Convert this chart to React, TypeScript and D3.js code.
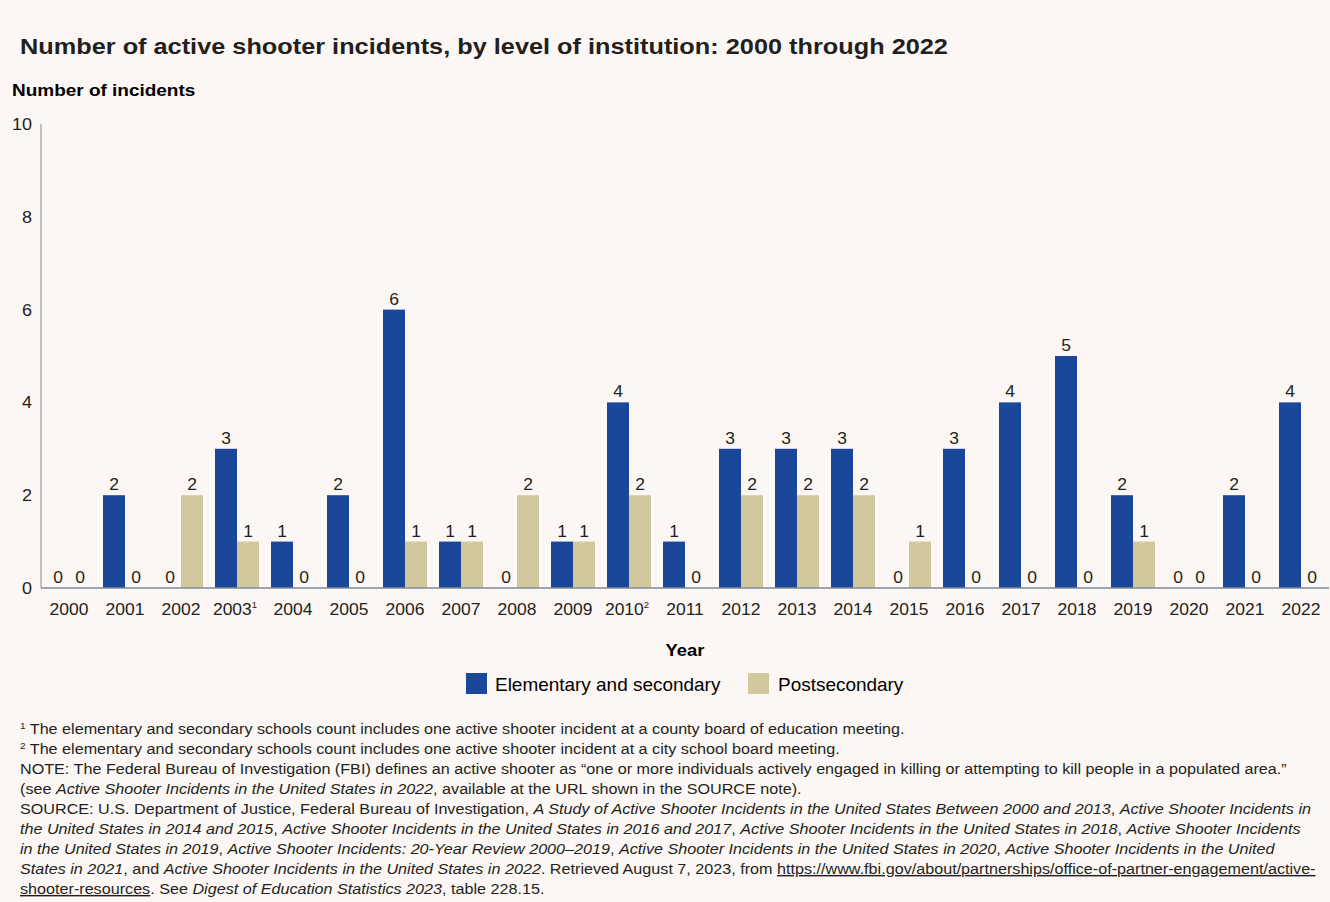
import React, { useEffect } from "react";
import * as d3 from "d3";

const years = ["2000","2001","2002","2003","2004","2005","2006","2007","2008","2009","2010","2011","2012","2013","2014","2015","2016","2017","2018","2019","2020","2021","2022"];
const yearSup: Record<string, string> = { "2003": "1", "2010": "2" };
const elementary = [0,2,0,3,1,2,6,1,0,1,4,1,3,3,3,0,3,4,5,2,0,2,4];
const postsecondary = [0,0,2,1,0,0,1,1,2,1,2,0,2,2,2,1,0,0,0,1,0,0,0];
const seriesNames = ["Elementary and secondary", "Postsecondary"];
const seriesColors = ["#1a4799", "#d1c89e"];
const yTicks = [0,2,4,6,8,10];

const title = "Number of active shooter incidents, by level of institution: 2000 through 2022";
const yTitle = "Number of incidents";
const xTitle = "Year";

type Seg = { t: string; i?: boolean; u?: boolean; sup?: boolean };
const notes: Seg[][] = [
  [{ t: "1", sup: true }, { t: " The elementary and secondary schools count includes one active shooter incident at a county board of education meeting." }],
  [{ t: "2", sup: true }, { t: " The elementary and secondary schools count includes one active shooter incident at a city school board meeting." }],
  [{ t: "NOTE: The Federal Bureau of Investigation (FBI) defines an active shooter as \u201cone or more individuals actively engaged in killing or attempting to kill people in a populated area.\u201d" }],
  [{ t: "(see " }, { t: "Active Shooter Incidents in the United States in 2022", i: true }, { t: ", available at the URL shown in the SOURCE note)." }],
  [{ t: "SOURCE: U.S. Department of Justice, Federal Bureau of Investigation, " }, { t: "A Study of Active Shooter Incidents in the United States Between 2000 and 2013", i: true }, { t: ", " }, { t: "Active Shooter Incidents in", i: true }],
  [{ t: "the United States in 2014 and 2015", i: true }, { t: ", " }, { t: "Active Shooter Incidents in the United States in 2016 and 2017", i: true }, { t: ", " }, { t: "Active Shooter Incidents in the United States in 2018", i: true }, { t: ", " }, { t: "Active Shooter Incidents", i: true }],
  [{ t: "in the United States in 2019", i: true }, { t: ", " }, { t: "Active Shooter Incidents: 20-Year Review 2000\u20132019", i: true }, { t: ", " }, { t: "Active Shooter Incidents in the United States in 2020", i: true }, { t: ", " }, { t: "Active Shooter Incidents in the United", i: true }],
  [{ t: "States in 2021", i: true }, { t: ", and " }, { t: "Active Shooter Incidents in the United States in 2022", i: true }, { t: ". Retrieved August 7, 2023, from " }, { t: "https://www.fbi.gov/about/partnerships/office-of-partner-engagement/active-", u: true }],
  [{ t: "shooter-resources", u: true }, { t: ". See " }, { t: "Digest of Education Statistics 2023", i: true }, { t: ", table 228.15." }],
];

const W = 1330, H = 902;
const FONT = "'Liberation Sans', Arial, Helvetica, sans-serif";
const TEXT = "#231f20";

function ST({ x, y, sx, children, ...rest }: any) {
  return (
    <text transform={`translate(${x},${y}) scale(${sx},1)`} {...rest}>{children}</text>
  );
}

export default function App() {
  useEffect(() => {
    document.body.style.margin = "0";
    document.body.style.background = "#fcf7f4";
  }, []);

  const left = 41, right = 1329, top = 124, bottom = 588;
  const x0 = d3.scaleBand<string>().domain(years).range([left, right]).padding(0);
  const x1 = d3.scaleBand<number>().domain([0, 1]).range([6, x0.bandwidth() - 6]).padding(0);
  const y = d3.scaleLinear().domain([0, 10]).range([bottom, top]);
  const series = [elementary, postsecondary];

  return (
    <svg width={W} height={H} style={{ display: "block", background: "#fcf7f4" }} fontFamily={FONT}>
      <rect width={W} height={H} fill="#fcf7f4" />
      <ST x={20} y={54} sx={1.125} fontSize={22.5} fontWeight="bold" fill={TEXT}>{title}</ST>
      <ST x={12} y={96} sx={1.116} fontSize={17} fontWeight="bold" fill="#000">{yTitle}</ST>

      {yTicks.map((t) => (
        <ST key={t} x={32} y={y(t) + 6} sx={1.06} fontSize={17} textAnchor="end" fill={TEXT}>{t}</ST>
      ))}

      {years.map((yr, gi) => (
        <g key={yr}>
          {series.map((s, si) => {
            const v = s[gi];
            const bx = (x0(yr) as number) + (x1(si) as number);
            const bw = x1.bandwidth();
            return (
              <g key={si}>
                {v > 0 && <rect x={bx} y={y(v)} width={bw} height={y(0) - y(v)} fill={seriesColors[si]} />}
                <ST x={bx + bw / 2} y={y(v) - 5} sx={1.06} fontSize={16.5} textAnchor="middle" fill={TEXT}>{v}</ST>
              </g>
            );
          })}
          <ST x={(x0(yr) as number) + x0.bandwidth() / 2 + (yearSup[yr] ? -2 : 0)} y={615} sx={1.06} fontSize={16.5} textAnchor="middle" fill={TEXT}>
            {yr}
            {yearSup[yr] && <tspan fontSize={9} dy={-7}>{yearSup[yr]}</tspan>}
          </ST>
        </g>
      ))}

      <line x1={left} x2={left} y1={top} y2={bottom} stroke="#7d8b99" strokeWidth={1} />
      <line x1={left} x2={right} y1={bottom} y2={bottom} stroke="#7d8b99" strokeWidth={1.5} />

      <ST x={685} y={656} sx={1.08} fontSize={17} fontWeight="bold" textAnchor="middle" fill="#000">{xTitle}</ST>

      <g>
        <rect x={466} y={673} width={21} height={21} fill={seriesColors[0]} />
        <ST x={495} y={691} sx={1.083} fontSize={17.5} fill="#000">{seriesNames[0]}</ST>
        <rect x={748} y={673} width={21} height={21} fill={seriesColors[1]} />
        <ST x={778} y={691} sx={1.083} fontSize={17.5} fill="#000">{seriesNames[1]}</ST>
      </g>

      {notes.map((line, li) => (
        <ST key={li} x={20} y={734 + li * 20} sx={1.115} fontSize={14.5} fill={TEXT}>
          {line.map((seg, si) => (
            seg.sup ? (
              <tspan key={si} fontSize={9} dy={-5}>{seg.t}</tspan>
            ) : (
              <tspan key={si} fontStyle={seg.i ? "italic" : "normal"} textDecoration={seg.u ? "underline" : "none"} dy={si > 0 && line[si - 1].sup ? 5 : 0}>{seg.t}</tspan>
            )
          ))}
        </ST>
      ))}
    </svg>
  );
}
